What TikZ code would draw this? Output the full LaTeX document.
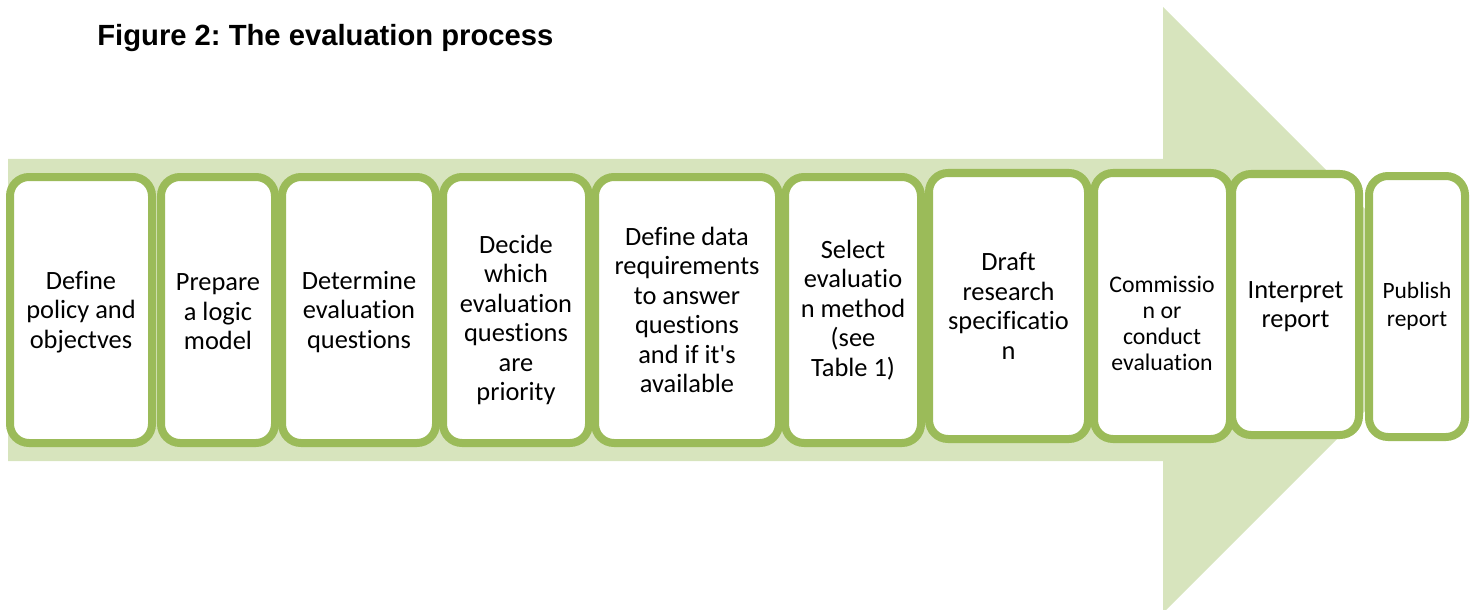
\documentclass[tikz,border=0pt]{standalone}
\usepackage{fontspec}
\setmainfont{Carlito}[Ligatures={NoCommon}]
\newfontfamily\titlefont{Liberation Sans}
\usetikzlibrary{shadows}
\definecolor{shaftgreen}{HTML}{D7E4BD}
\definecolor{edgegreen}{HTML}{9BBB59}
\frenchspacing

\begin{document}
\begin{tikzpicture}[x=0.5pt,y=-0.5pt,
        stepbox/.style={draw=edgegreen, line width=4pt, fill=white, rounded corners=9.5pt, inner sep=0pt,
            drop shadow={shadow xshift=0pt, shadow yshift=-1.5pt, opacity=0.3}},
        steptext/.style={align=center, inner sep=0pt, font=\fontsize{13.2}{14.7}\selectfont}]
        \useasboundingbox (0,0) rectangle (1478,610);
        % big arrow behind the steps
        \fill[shaftgreen] (8,159) -- (1163,159) -- (1163,7) -- (1466,310) -- (1163,613) -- (1163,461) -- (8,461) -- cycle;
        \node[anchor=base west, inner sep=0pt, font=\titlefont\bfseries\fontsize{14.6}{17}\selectfont] (title) at (97,46) {Figure 2: The evaluation process};

        \node[stepbox, minimum width=71pt, minimum height=133pt] (define) at (81,310) {};
        \node[stepbox, minimum width=57pt, minimum height=133pt] (prepare) at (218,310) {};
        \node[stepbox, minimum width=77pt, minimum height=133pt] (determine) at (359,310) {};
        \node[stepbox, minimum width=73pt, minimum height=133pt] (decide) at (516,310) {};
        \node[stepbox, minimum width=92pt, minimum height=133pt] (data) at (687,310) {};
        \node[stepbox, minimum width=68pt, minimum height=133pt] (select) at (853,310) {};
        \node[stepbox, minimum width=79.5pt, minimum height=133pt] (draft) at (1008.5,306) {};
        \node[stepbox, minimum width=68pt, minimum height=133pt] (commission) at (1162,306) {};
        \node[stepbox, minimum width=63.5pt, minimum height=130.5pt] (interpret) at (1295.5,304.5) {};
        \node[stepbox, minimum width=48pt, minimum height=130.5pt] (publish) at (1417,306.5) {};

        \node[steptext] (definetext) at ([yshift=-1pt]define.center) {Define\\policy and\\objectves};
        \node[steptext] (preparetext) at ([yshift=-1pt]prepare.center) {Prepare\\a logic\\model};
        \node[steptext] (determinetext) at ([yshift=-1pt]determine.center) {Determine\\evaluation\\questions};
        \node[steptext] (decidetext) at ([yshift=-5pt]decide.center) {Decide\\which\\evaluation\\questions\\are\\priority};
        \node[steptext] (datatext) at (data) {Define data\\requirements\\to answer\\questions\\and if it\textquotesingle s\\available};
        \node[steptext] (selecttext) at (select) {Select\\evaluatio\\n method\\(see\\Table 1)};
        \node[steptext] (drafttext) at (draft) {Draft\\research\\specificatio\\n};
        \node[steptext, font=\fontsize{11.9}{13}\selectfont] (commissiontext) at ([yshift=-8.5pt]commission.center) {Commissio\\n or\\conduct\\evaluation};
        \node[steptext] (interprettext) at ([yshift=-1pt]interpret.center) {Interpret\\report};
        \node[steptext, font=\fontsize{11.7}{14}\selectfont] (publishtext) at (publish) {Publish\\report};
    \end{tikzpicture}
\end{document}
